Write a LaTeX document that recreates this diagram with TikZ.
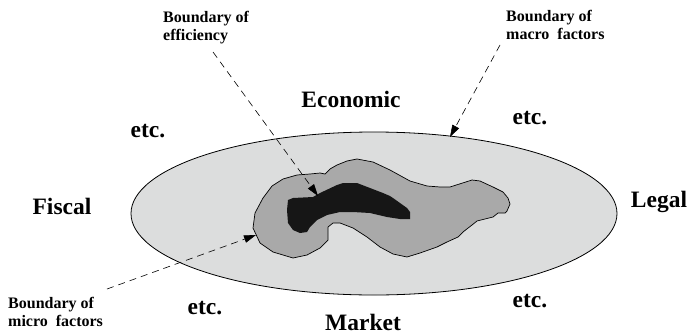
\documentclass[tikz,border=0pt]{standalone}
\usepackage{fontspec}
\setmainfont{Liberation Serif}
\usetikzlibrary{arrows.meta}
\definecolor{lightfill}{HTML}{DCDDDD}
\definecolor{midfill}{HTML}{A9A9A9}
\definecolor{darkfill}{HTML}{161616}
\tikzset{
  biglabel/.style={font=\bfseries\fontsize{23.5}{26}\selectfont, inner sep=0pt, anchor=base},
  smalllabel/.style={font=\bfseries\fontsize{16}{18}\selectfont, inner sep=0pt, anchor=north west, align=left},
  pointer/.style={dash pattern=on 7pt off 5pt, line width=0.6pt, -{Triangle[length=12pt,width=7.5pt]}},
}
\begin{document}
\begin{tikzpicture}[x=1pt,y=-1pt]
\useasboundingbox (0,0) rectangle (688,335);
% outer ellipse
\draw[fill=lightfill, line width=0.8pt] (374,213.5) ellipse [x radius=243, y radius=81.5];
% micro boundary
\draw[fill=midfill, line width=0.7pt, line join=round]
 (253,228) -- (255,213) -- (263,198) -- (272,186) -- (283,179) -- (297,175) -- (310,174) -- (320,173) -- (325,174) -- (330,169) -- (337,165) -- (347,161) -- (357,159) -- (373,162) -- (390,170) -- (410,181) -- (427,186) -- (440,187) -- (450,187) -- (472,180) -- (480,181) -- (493,187) -- (503,192) -- (508,198) -- (510,204) -- (507,211) -- (505,213) -- (498,213) -- (493,217) -- (477,221) -- (472,225) -- (463,232) -- (458,237) -- (447,242) -- (437,247) -- (420,253) -- (407,257) -- (393,254) -- (380,247) -- (367,237) -- (353,228) -- (340,223) -- (333,223) -- (328,227) -- (328,240) -- (320,248) -- (307,255) -- (293,258) -- (273,252) -- (260,243) -- cycle;
% efficiency boundary
\fill[darkfill]
 (288,200) -- (293,198) -- (313,197) -- (320,193) -- (337,185) -- (343,183) -- (357,183) -- (370,188) -- (383,193) -- (390,196) -- (393,198) -- (400,203) -- (407,208) -- (410,212) -- (410,219) -- (400,219) -- (387,217) -- (370,213) -- (353,212) -- (340,212) -- (327,215) -- (317,220) -- (310,227) -- (307,232) -- (300,233) -- (293,230) -- (288,223) -- (287,210) -- cycle;
% labels
\node[biglabel] (econ) at (351,107) {Economic};
\node[biglabel] (market) at (363,330) {Market};
\node[biglabel] (fiscal) at (62,214) {Fiscal};
\node[biglabel] (legal) at (659,207) {Legal};
\node[biglabel] (etctl) at (148,137) {etc.};
\node[biglabel] (etctr) at (530,124) {etc.};
\node[biglabel] (etcbl) at (205,314) {etc.};
\node[biglabel] (etcbr) at (530,307) {etc.};
\node[smalllabel] (effl) at (163,11) {Boundary of\\efficiency};
\node[smalllabel] (macl) at (506,10) {Boundary of\\macro~ factors};
\node[smalllabel] (micl) at (8,297) {Boundary of\\micro~ factors};
% pointers
\coordinate (effS) at (213,52);
\coordinate (effE) at (318,196);
\coordinate (macS) at (500,45);
\coordinate (macE) at (450,137);
\coordinate (micS) at (107,289);
\coordinate (micE) at (256,235);
\draw[pointer] (effS) -- (effE);
\draw[pointer] (macS) -- (macE);
\draw[pointer] (micS) -- (micE);
\end{tikzpicture}
\end{document}
